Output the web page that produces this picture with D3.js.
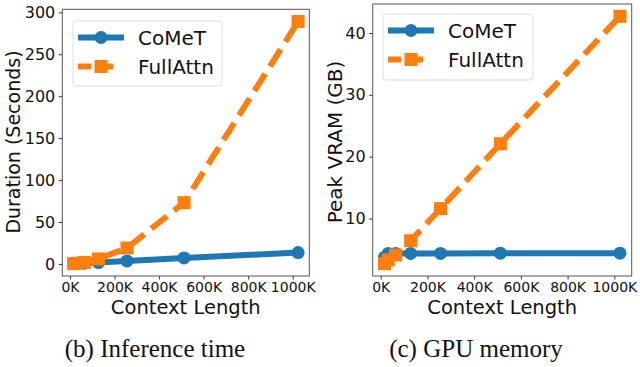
<!DOCTYPE html>
<html>
<head>
  <meta charset="utf-8">
  <title>CoMeT vs FullAttn</title>
  <script src="https://d3js.org/d3.v7.min.js"></script>
  <style>
    body { margin: 0; background: #fff; }
    text { font-family: "DejaVu Sans", sans-serif; fill: #111; }
  </style>
</head>
<body>
  <script>
  // data (context length in K tokens)
  var contextK   = [16, 32, 64, 128, 256, 512, 1024];
  var timeComet  = [0.3, 0.5, 0.8, 1.6, 3.6, 7.2, 13.5];
  var timeFull   = [0.3, 0.8, 1.8, 6, 19, 73, 289];
  var vramComet  = [3.7, 4.35, 4.35, 4.35, 4.35, 4.4, 4.4];
  var vramFull   = [2.7, 3.3, 4.1, 6.4, 11.6, 22.1, 42.7];
  var xTicks     = [0, 200, 400, 600, 800, 1000];
  var timeTicks  = [0, 50, 100, 150, 200, 250, 300];
  var vramTicks  = [10, 20, 30, 40];
  var seriesNames = ["CoMeT", "FullAttn"];

  var blue = "#1f77b4", orange = "#ff7f0e";

  var svg = d3.select("body").append("svg").attr("width", 640).attr("height", 367);

  function panel(o) {
    var x = d3.scaleLinear().domain([-34.4, 1074.4]).range([o.left, o.right]);
    var y = d3.scaleLinear().domain(o.ydom).range([o.bottom, o.top]);
    var g = svg.append("g");

    // axes
    var ax = g.append("g")
      .attr("transform", "translate(0," + o.bottom + ")")
      .call(d3.axisBottom(x).tickValues(xTicks).tickSize(3.5).tickPadding(2.5).tickFormat(function(d) { return d + "K"; }));
    ax.selectAll("text").attr("font-size", "14px").attr("font-family", "DejaVu Sans");
    var ay = g.append("g")
      .attr("transform", "translate(" + o.left + ",0)")
      .call(d3.axisLeft(y).tickValues(o.yticks).tickSize(3.5).tickPadding(3.5));
    ay.selectAll("text").attr("font-size", "16px").attr("font-family", "DejaVu Sans");
    g.selectAll(".domain").remove();
    g.selectAll(".tick line").attr("stroke", "#333");

    g.append("rect")
      .attr("x", o.left).attr("y", o.top)
      .attr("width", o.right - o.left).attr("height", o.bottom - o.top)
      .attr("fill", "none").attr("stroke", "#555").attr("stroke-width", 1);

    // lines
    var line = d3.line()
      .x(function(d, i) { return x(contextK[i]); })
      .y(function(d) { return y(d); });

    g.append("path").datum(o.comet)
      .attr("fill", "none").attr("stroke", blue).attr("stroke-width", 6)
      .attr("stroke-linejoin", "round").attr("d", line);
    g.selectAll(".c").data(o.comet).enter().append("circle")
      .attr("cx", function(d, i) { return x(contextK[i]); })
      .attr("cy", function(d) { return y(d); })
      .attr("r", 6.5).attr("fill", blue);

    g.append("path").datum(o.full)
      .attr("fill", "none").attr("stroke", orange).attr("stroke-width", 6)
      .attr("stroke-dasharray", "20,9").attr("d", line);
    g.selectAll(".s").data(o.full).enter().append("rect")
      .attr("x", function(d, i) { return x(contextK[i]) - 6.5; })
      .attr("y", function(d) { return y(d) - 6.5; })
      .attr("width", 13).attr("height", 13).attr("fill", orange);

    // legend
    var lg = g.append("g");
    lg.append("rect")
      .attr("x", o.leg[0]).attr("y", o.leg[1]).attr("width", o.leg[2]).attr("height", o.leg[3])
      .attr("rx", 3).attr("fill", "#fff").attr("fill-opacity", 0.8)
      .attr("stroke", "#ddd").attr("stroke-width", 1);
    var lx = o.leg[0] + 5, ly = [o.leg[1] + 16.5, o.leg[1] + 45.5];
    lg.append("line").attr("x1", lx).attr("x2", lx + 46).attr("y1", ly[0]).attr("y2", ly[0])
      .attr("stroke", blue).attr("stroke-width", 6);
    lg.append("circle").attr("cx", lx + 23).attr("cy", ly[0]).attr("r", 6.5).attr("fill", blue);
    lg.append("line").attr("x1", lx).attr("x2", lx + 46).attr("y1", ly[1]).attr("y2", ly[1])
      .attr("stroke", orange).attr("stroke-width", 6).attr("stroke-dasharray", "13,9,13");
    lg.append("rect").attr("x", lx + 23 - 6.5).attr("y", ly[1] - 6.5).attr("width", 13).attr("height", 13).attr("fill", orange);
    seriesNames.forEach(function(n, i) {
      lg.append("text").attr("x", lx + 60).attr("y", ly[i] + 7.3)
        .attr("font-size", "20px").text(n);
    });

    // axis labels
    g.append("text").attr("x", (o.left + o.right) / 2).attr("y", 314)
      .attr("text-anchor", "middle").attr("font-size", "19.5px").text("Context Length");
    g.append("text").attr("transform", "translate(" + o.ylabX + ",142) rotate(-90)")
      .attr("text-anchor", "middle").attr("font-size", o.ylabSize).text(o.ylabel);

    g.append("text").attr("x", o.capX).attr("y", 357)
      .attr("text-anchor", "middle").attr("font-size", "25px")
      .style("font-family", "'Liberation Serif', 'Times New Roman', serif")
      .text(o.caption);
  }

  panel({
    left: 62.3, right: 309.3, top: 9.3, bottom: 276,
    ydom: [-14.4, 303.6], yticks: timeTicks,
    comet: timeComet, full: timeFull,
    leg: [73, 21, 149, 65],
    ylabel: "Duration (Seconds)", ylabX: 20, ylabSize: "19px",
    caption: "(b) Inference time", capX: 155
  });

  panel({
    left: 372.7, right: 631.7, top: 4, bottom: 276,
    ydom: [0.7, 44.7], yticks: vramTicks,
    comet: vramComet, full: vramFull,
    leg: [383, 14, 150, 66],
    ylabel: "Peak VRAM (GB)", ylabX: 341.7, ylabSize: "20px",
    caption: "(c) GPU memory", capX: 476
  });
  </script>
</body>
</html>
